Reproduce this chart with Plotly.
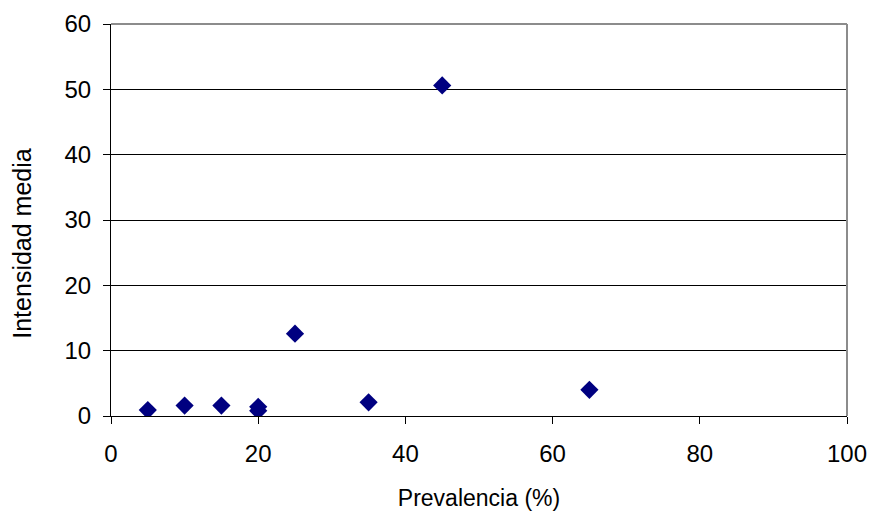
import plotly.graph_objects as go

# Prevalence (%) vs mean intensity per sample
prevalencia = [5, 10, 15, 20, 20, 25, 35, 45, 65]
intensidad_media = [0.9, 1.6, 1.6, 1.4, 0.8, 12.6, 2.1, 50.6, 4.0]

x_ticks = [0, 20, 40, 60, 80, 100]
y_ticks = [0, 10, 20, 30, 40, 50, 60]

font_family = "Liberation Sans, Arial, sans-serif"

fig = go.Figure()
fig.add_trace(go.Scatter(
    x=prevalencia,
    y=intensidad_media,
    mode="markers",
    marker=dict(symbol="diamond", size=14, color="#000080",
                line=dict(width=0)),
    showlegend=False,
))

fig.update_layout(
    width=872, height=511,
    margin=dict(l=111, r=25, t=24, b=95),
    paper_bgcolor="white",
    plot_bgcolor="white",
    font=dict(family=font_family, color="black", size=24),
    xaxis=dict(
        range=[0, 100], tickvals=x_ticks, ticks="outside", ticklen=7,
        tickcolor="black", showgrid=False, zeroline=False,
        showline=True, linecolor="black", linewidth=1,
        automargin=False, ticklabelstandoff=9,
        tickfont=dict(size=24), title=dict(text="Prevalencia (%)",
                                          font=dict(size=23), standoff=24),
    ),
    yaxis=dict(
        range=[0, 60], tickvals=y_ticks, ticks="outside", ticklen=7,
        tickcolor="black", showgrid=True, gridcolor="black", gridwidth=1,
        zeroline=False, showline=True, linecolor="black", linewidth=1,
        automargin=False, ticklabelstandoff=7,
        tickfont=dict(size=24),
    ),
)

# Y-axis title, placed slightly below the plot's vertical centre
fig.add_annotation(
    text="Intensidad media", textangle=-90, showarrow=False,
    xref="paper", yref="paper", x=-0.122, y=0.44,
    xanchor="center", yanchor="middle",
    font=dict(family=font_family, size=25, color="black"),
)

# Gray frame on the top and right of the plot area
fig.add_shape(type="line", xref="paper", yref="paper", x0=0, x1=1, y0=1, y1=1,
              line=dict(color="#8c8c8c", width=2))
fig.add_shape(type="line", xref="paper", yref="paper", x0=1, x1=1, y0=0, y1=1,
              line=dict(color="#8c8c8c", width=2))

fig.write_html("out.html")
